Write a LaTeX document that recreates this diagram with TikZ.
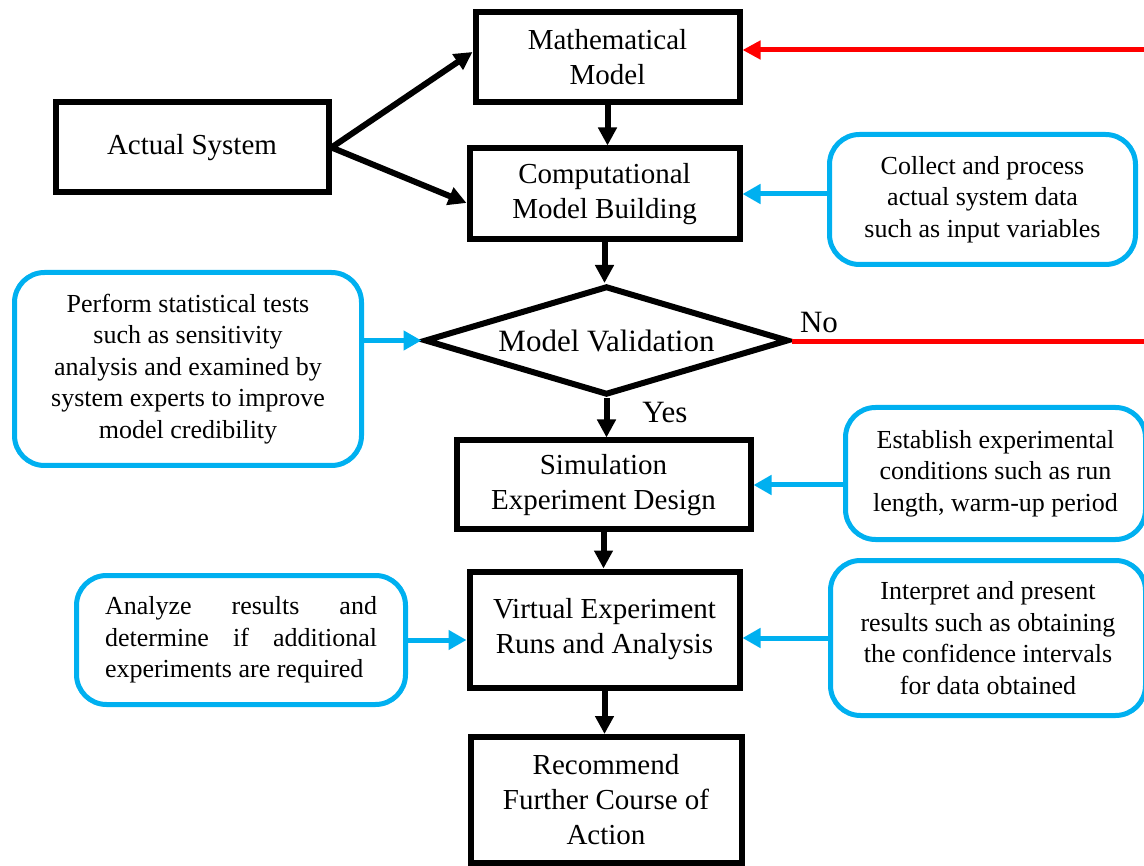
\documentclass[tikz,border=0pt]{standalone}
\usepackage{fontspec}
\IfFontExistsTF{LiberationSerif-Regular.ttf}
  {\setmainfont{LiberationSerif}[Extension=.ttf, UprightFont=*-Regular,
     BoldFont=*-Bold, ItalicFont=*-Italic, BoldItalicFont=*-BoldItalic]}
  {\setmainfont{Liberation Serif}}
\usetikzlibrary{arrows.meta,shapes.geometric}
\definecolor{flowblue}{RGB}{0,176,240}
\definecolor{flowred}{RGB}{255,0,0}
\begin{document}
\begin{tikzpicture}[x=1pt,y=-1pt,
  procbox/.style={draw=black, line width=6pt, fill=white, inner sep=0pt,
    align=center, font=\rmfamily\fontsize{29}{35}\selectfont},
  decision/.style={diamond, draw=black, line width=6pt, fill=white, inner sep=0pt,
    aspect=3.3, font=\rmfamily\fontsize{31}{37}\selectfont},
  notebox/.style={draw=flowblue, line width=5pt, rounded corners=30pt, fill=white,
    inner sep=0pt, align=center, font=\rmfamily\fontsize{26}{31.5}\selectfont},
  branchlabel/.style={inner sep=0pt, font=\rmfamily\fontsize{31}{37}\selectfont},
  flow/.style={draw=black, line width=6pt, -{Triangle[length=18pt,width=18pt]}},
  feed/.style={draw=flowblue, line width=5pt, -{Triangle[length=18pt,width=19pt]}},
  loopline/.style={draw=flowred, line width=5pt},
]
\useasboundingbox (0,0) rectangle (1144,866);
\fill[white] (0,0) rectangle (1144,866);

% main process chain
\node[procbox, minimum width=264pt, minimum height=90pt]  (mm)  at (607.5,57.5) {Mathematical\\Model};
\node[procbox, minimum width=273pt, minimum height=90pt]  (as)  at (192,147.5)  {Actual System};
\node[procbox, minimum width=270pt, minimum height=91pt]  (cmb) at (604.5,194)  {Computational\\Model Building};
\node[decision, minimum width=364pt, minimum height=109pt] (mv) at (606.5,340.5) {Model Validation};
\node[procbox, minimum width=294pt, minimum height=89pt]  (sed) at (603.5,485)  {Simulation\\Experiment Design};
\node[procbox, minimum width=270pt, minimum height=116pt] (ver) at (604.5,629.5) {Virtual Experiment\\Runs and Analysis};
\node[procbox, minimum width=271pt, minimum height=126pt] (rec) at (606,800)    {Recommend\\Further Course of\\Action};

% side notes
\node[notebox, minimum width=306pt, minimum height=130pt] (col) at (982.5,199.5)
  {Collect and process\\actual system data\\such as input variables};
\node[notebox, minimum width=347pt, minimum height=193pt] (perf) at (188,369)
  {Perform statistical tests\\such as sensitivity\\analysis and examined by\\system experts to improve\\model credibility};
\node[notebox, minimum width=300pt, minimum height=132pt] (est) at (995.5,473.5)
  {Establish experimental\\conditions such as run\\length, warm-up period};
\node[notebox, minimum width=329pt, minimum height=129pt] (ana) at (241,640)
  {\parbox{272pt}{Analyze\hfill results\hfill and\\determine\hfill if\hfill additional\\experiments are required}};
\node[notebox, minimum width=315pt, minimum height=155pt] (int) at (988,638)
  {Interpret and present\\results such as obtaining\\the confidence intervals\\for data obtained};

% branch labels
\node[branchlabel] (no)  at (819,323) {No};
\node[branchlabel] (yes) at (665,413) {Yes};

% loose ends of the feedback loop
\coordinate (rtop) at (1144,50);
\coordinate (rbot) at (1144,342);

% black flow arrows
\draw[flow] (as.east) -- ([yshift=5.5pt]mm.west);
\draw[flow] (as.east) -- ([yshift=-9pt]cmb.west);
\draw[flow] (mm.south) -- (mm.south |- cmb.north);
\draw[flow] (cmb.south) -- (cmb.south |- mv.north);
\draw[flow] (mv.south) -- (mv.south |- sed.north);
\draw[flow] (sed.south) -- (sed.south |- ver.north);
\draw[flow] (ver.south) -- (ver.south |- rec.north);

% blue input arrows
\draw[feed] (col.west |- cmb.east) -- (cmb.east);
\draw[feed] (perf.east |- mv.west) -- (mv.west);
\draw[feed] (est.west |- sed.east) -- (sed.east);
\draw[feed] (ana.east) -- (ver.west |- ana.east);
\draw[feed] (int.west) -- (ver.east |- int.west);

% red feedback loop
\draw[loopline] (mv.east |- rbot) -- (rbot);
\draw[loopline, -{Triangle[length=18pt,width=18pt]}] (rtop) -- (mm.east |- rtop);
\end{tikzpicture}
\end{document}
